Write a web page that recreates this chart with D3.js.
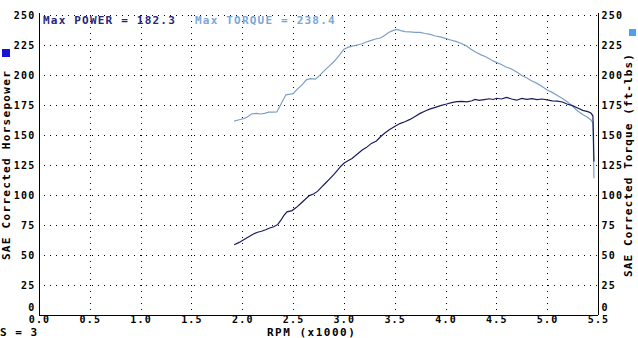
<!DOCTYPE html>
<html>
<head>
<meta charset="utf-8">
<script src="https://cdn.jsdelivr.net/npm/d3@7"></script>
<style>
  html, body { margin: 0; padding: 0; background: #fff; }
  svg { display: block; }
  text { font-family: "DejaVu Sans Mono", monospace; font-weight: bold; }
</style>
</head>
<body>
<svg id="chart" width="638" height="338"></svg>
<script>
// ---- data
const rpmTicks = [0.0, 0.5, 1.0, 1.5, 2.0, 2.5, 3.0, 3.5, 4.0, 4.5, 5.0, 5.5];
const valueTicks = [0, 25, 50, 75, 100, 125, 150, 175, 200, 225, 250];

const powerRpm = [1.92, 1.97, 2.01, 2.06, 2.11, 2.15, 2.19, 2.23, 2.27, 2.31, 2.35, 2.38, 2.41, 2.44, 2.49,
  2.53, 2.57, 2.62, 2.66, 2.70, 2.74, 2.78, 2.82, 2.86, 2.90, 2.94, 2.97, 3.00, 3.04, 3.08, 3.13, 3.18,
  3.22, 3.27, 3.32, 3.36, 3.40, 3.45, 3.50, 3.55, 3.60, 3.65, 3.70, 3.75, 3.80, 3.85, 3.90, 3.95, 4.01,
  4.06, 4.11, 4.16, 4.21, 4.26, 4.29, 4.33, 4.38, 4.43, 4.47, 4.50, 4.55, 4.60, 4.65, 4.70, 4.75, 4.80,
  4.85, 4.90, 4.95, 5.00, 5.05, 5.10, 5.15, 5.20, 5.25, 5.30, 5.35, 5.40, 5.43, 5.45, 5.455, 5.46];
const powerHp = [58.5, 60.5, 62.5, 65, 67.5, 69, 69.8, 71, 72.5, 73.5, 75.5, 79, 83, 86, 87,
  89.5, 92.5, 96.5, 99.5, 100.8, 103, 106.5, 110, 113.5, 117, 121, 124, 126.5, 128.5, 130.5, 134, 137.5,
  139.5, 143, 145, 148.5, 151.5, 154.5, 157, 159.5, 161, 163, 165.5, 168, 170, 171.8, 173, 174.5, 175.8,
  177, 177.8, 178, 177.6, 178.5, 179.7, 178.8, 179.5, 180.2, 179.6, 180.6, 180, 181.4, 180, 179, 180.5, 179.7,
  180.3, 179.5, 180, 179.2, 178.5, 178.2, 177.5, 175.6, 174.5, 172.5, 170.5, 169.5, 168.3, 166, 150, 128];

const torqueRpm = [1.92, 1.96, 2.01, 2.05, 2.09, 2.14, 2.18, 2.22, 2.26, 2.30, 2.34, 2.37, 2.40, 2.43, 2.47,
  2.50, 2.54, 2.59, 2.63, 2.67, 2.72, 2.76, 2.80, 2.85, 2.90, 2.95, 3.00, 3.04, 3.08, 3.13, 3.18, 3.22,
  3.27, 3.31, 3.36, 3.40, 3.44, 3.48, 3.52, 3.56, 3.60, 3.65, 3.70, 3.75, 3.80, 3.85, 3.90, 3.95, 4.00,
  4.05, 4.10, 4.15, 4.20, 4.25, 4.30, 4.35, 4.40, 4.45, 4.50, 4.55, 4.60, 4.65, 4.70, 4.75, 4.80, 4.85,
  4.90, 4.95, 5.00, 5.05, 5.10, 5.15, 5.20, 5.25, 5.30, 5.35, 5.40, 5.43, 5.45, 5.455, 5.46];
const torqueLbft = [161.5, 162.5, 163.5, 165, 167.5, 168, 167.5, 168, 169, 169, 169.2, 174, 179, 183.5, 184,
  184.5, 188, 192, 196, 197, 196.5, 199.5, 203, 207, 211, 216, 221.5, 223, 224, 225, 226, 227.5,
  228.8, 230, 230.8, 233, 235.5, 237, 238, 237, 236.2, 236, 235.6, 235.5, 234.6, 233.8, 232.5, 231.8, 230.5,
  229.2, 228, 226.5, 224.5, 221.5, 219, 216.8, 215, 212.5, 210.5, 208.8, 206.5, 205, 202.5, 199.5, 197.5, 195,
  193, 190.5, 187.5, 185.5, 183, 180.5, 177.5, 174, 170, 167, 164.5, 162.5, 160, 140, 114];

const maxPower = "182.3";
const maxTorque = "238.4";

const powerColor = "#1b1b5e";
const torqueColor = "#7d9fc4";

// ---- layout
const svg = d3.select("#chart");
const plotLeft = 39, plotRight = 598, plotTop = 15, plotBottom = 315;

const x = d3.scaleLinear().domain([0, 5.5]).range([plotLeft, plotRight]);
const y = d3.scaleLinear().domain([0, 250]).range([plotBottom, plotTop]);

// dotted grid
const grid = svg.append("g")
  .attr("stroke", "#000")
  .attr("stroke-width", 1)
  .attr("stroke-dasharray", "1,5")
  .attr("shape-rendering", "crispEdges");

grid.selectAll("line.v")
  .data(rpmTicks.filter(d => d > 0 && d < 5.5))
  .join("line")
  .attr("class", "v")
  .attr("x1", d => Math.round(x(d)) + 0.5)
  .attr("x2", d => Math.round(x(d)) + 0.5)
  .attr("y1", plotTop)
  .attr("y2", plotBottom);

grid.selectAll("line.h")
  .data(valueTicks.filter(d => d > 0))
  .join("line")
  .attr("class", "h")
  .attr("x1", plotLeft + 5)
  .attr("x2", plotRight)
  .attr("y1", d => Math.round(y(d)) + 0.5)
  .attr("y2", d => Math.round(y(d)) + 0.5);

// axes (no tick marks, just the frame lines and labels)
const fmt1 = d3.format(".1f");

const xAxis = d3.axisBottom(x).tickValues(rpmTicks).tickFormat(fmt1).tickSize(0).tickPadding(0);
const gx = svg.append("g").attr("transform", `translate(0,${plotBottom + 0.5})`).call(xAxis);

const yAxisL = d3.axisLeft(y).tickValues(valueTicks).tickSize(0).tickPadding(4);
const gl = svg.append("g").attr("transform", `translate(${plotLeft + 0.5},0)`).call(yAxisL);

const yAxisR = d3.axisRight(y).tickValues(valueTicks).tickSize(0).tickPadding(3);
const gr = svg.append("g").attr("transform", `translate(${plotRight + 0.5},0)`).call(yAxisR);

[gx, gl, gr].forEach(g => {
  g.select(".domain").attr("stroke", "#000").attr("shape-rendering", "crispEdges");
  g.selectAll("text")
    .attr("fill", "#000")
    .style("font-size", "10px")
    .style("font-family", "'DejaVu Sans Mono', monospace")
    .style("font-weight", "bold")
    .style("letter-spacing", "1.2px");
});
gx.select(".domain").attr("d", `M${plotLeft},0H${plotRight}`);
gl.select(".domain").attr("d", `M0,${plotTop - 2}V${plotBottom}`);
gr.select(".domain").attr("d", `M0,${plotTop - 2}V${plotBottom}`);

// the "0" labels sit a little above the baseline so they clear the rpm labels
[gl, gr].forEach(g => {
  g.selectAll(".tick").filter(d => d === 0).select("text").attr("y", -7.5);
});

// curves
const line = d3.line().x(d => x(d[0])).y(d => y(d[1]));

svg.append("path")
  .datum(d3.zip(torqueRpm, torqueLbft))
  .attr("fill", "none")
  .attr("stroke", torqueColor)
  .attr("stroke-width", 1.2)
  .attr("d", line);

svg.append("path")
  .datum(d3.zip(powerRpm, powerHp))
  .attr("fill", "none")
  .attr("stroke", powerColor)
  .attr("stroke-width", 1.2)
  .attr("d", line);

// header text
svg.append("text")
  .attr("x", 43).attr("y", 24)
  .attr("fill", "#25257a")
  .style("font-size", "11px")
  .style("letter-spacing", "1.2px")
  .text(`Max POWER = ${maxPower}`);

svg.append("text")
  .attr("x", 195).attr("y", 24)
  .attr("fill", "#7aa6d6")
  .style("font-size", "11px")
  .style("letter-spacing", "1.2px")
  .text(`Max TORQUE = ${maxTorque}`);

// axis titles
svg.append("text")
  .attr("transform", `translate(10,${(plotTop + plotBottom) / 2}) rotate(-90)`)
  .attr("text-anchor", "middle")
  .attr("fill", "#000")
  .style("font-size", "11px")
  .style("letter-spacing", "1.3px")
  .text("SAE Corrected Horsepower");

svg.append("text")
  .attr("transform", `translate(632,${(plotTop + plotBottom) / 2}) rotate(-90)`)
  .attr("text-anchor", "middle")
  .attr("fill", "#000")
  .style("font-size", "11px")
  .style("letter-spacing", "1.1px")
  .text("SAE Corrected Torque (ft-lbs)");

svg.append("text")
  .attr("x", 0).attr("y", 336)
  .attr("fill", "#000")
  .style("font-size", "11px")
  .style("letter-spacing", "1px")
  .text("S = 3");

svg.append("text")
  .attr("x", 267).attr("y", 336)
  .attr("fill", "#000")
  .style("font-size", "11px")
  .style("letter-spacing", "1.5px")
  .text("RPM (x1000)");

// legend squares
svg.append("rect").attr("x", 2).attr("y", 49).attr("width", 8).attr("height", 8).attr("fill", "#1414d8");
svg.append("rect").attr("x", 629).attr("y", 29).attr("width", 7).attr("height", 7).attr("fill", "#4f9ff0");
</script>
</body>
</html>
